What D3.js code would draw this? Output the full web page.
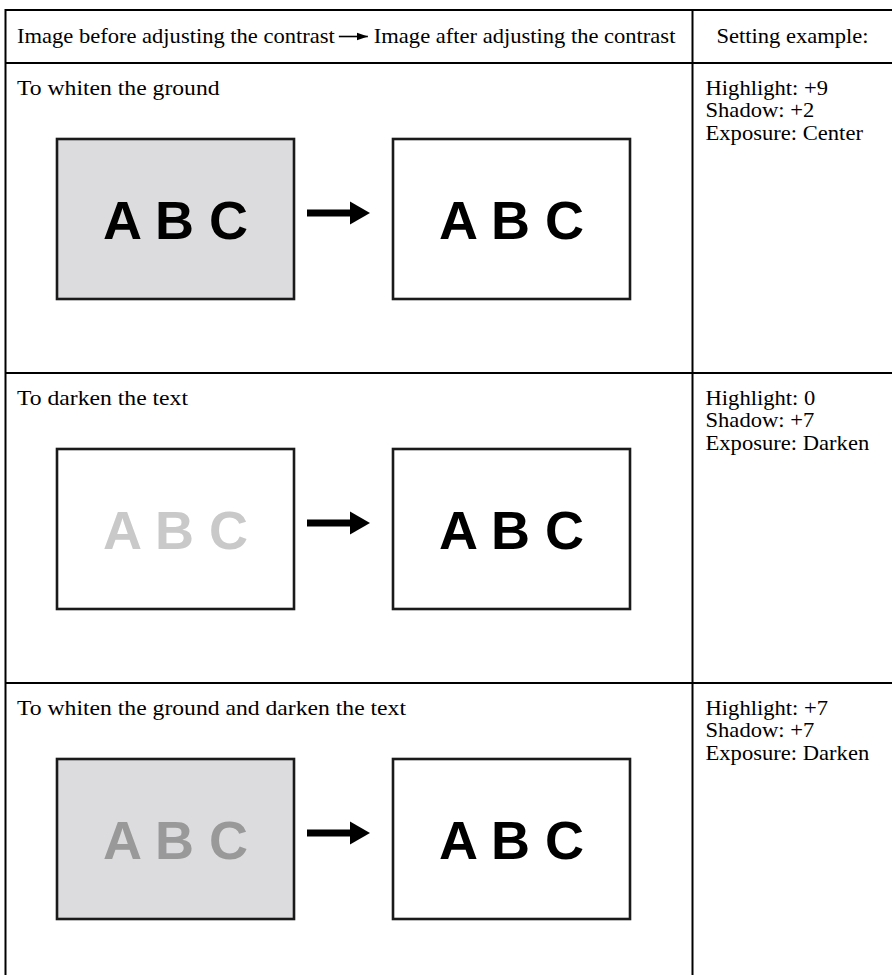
<!DOCTYPE html>
<html><head><meta charset="utf-8">
<script src="https://cdn.jsdelivr.net/npm/d3@7"></script>
<style>body{margin:0;background:#fff}svg{display:block}</style>
</head><body>
<svg id="c" width="892" height="975"></svg>
<script>
// ---- data ----
const headerLeft = ["Image before adjusting the contrast", "Image after adjusting the contrast"];
const headerRight = "Setting example:";
const rowTitles = ["To whiten the ground", "To darken the text", "To whiten the ground and darken the text"];
const sampleText = "A B C";
const beforeFill = ["#dcdcde", "#ffffff", "#dcdcde"];
const beforeInk = ["#000000", "#c9c9c9", "#999999"];
const afterFill = ["#ffffff", "#ffffff", "#ffffff"];
const afterInk = ["#000000", "#000000", "#000000"];
const highlight = ["+9", "0", "+7"];
const shadow = ["+2", "+7", "+7"];
const exposure = ["Center", "Darken", "Darken"];

const W = 892, H = 975;
const svg = d3.select("#c");
const serif = "'Liberation Serif','Times New Roman',serif";
const sans = "'Liberation Sans',Arial,sans-serif";

const tableLeft = 5.5, tableTop = 10, headerBottom = 63, divX = 692.5, rowH = 310;
const rowIdx = d3.range(rowTitles.length);
const y = d3.scaleBand().domain(rowIdx).range([headerBottom, headerBottom + rowH * rowIdx.length]).padding(0);
const col = d3.scalePoint().domain(["before", "after"]).range([175.5, 511.5]);
const boxW = 237, boxH = 160, boxOff = 76;

// helper: serif text, slightly widened like the reference typesetting
function stext(parent, x, yy, size, sx, str) {
  return parent.append("text")
    .attr("transform", `translate(${x},${yy}) scale(${sx},1)`)
    .attr("font-family", serif).attr("font-size", size).attr("fill", "#000").text(str);
}

// arrow marker defs
svg.append("defs").append("marker").attr("id", "hd").attr("viewBox", "0 0 10 10")
  .attr("refX", 10).attr("refY", 5).attr("markerWidth", 11).attr("markerHeight", 11)
  .attr("markerUnits", "userSpaceOnUse").attr("orient", "auto")
  .append("path").attr("d", "M0,1.5 L10,5 L0,8.5 Z").attr("fill", "#000");

// table lines
const g = svg.append("g").attr("stroke", "#000").attr("stroke-width", 2);
g.append("line").attr("x1", tableLeft).attr("x2", W + 5).attr("y1", tableTop).attr("y2", tableTop);
g.append("line").attr("x1", tableLeft).attr("x2", W + 5).attr("y1", headerBottom).attr("y2", headerBottom);
rowIdx.slice(1).forEach(i => g.append("line").attr("x1", tableLeft).attr("x2", W + 5).attr("y1", y(i)).attr("y2", y(i)));
g.append("line").attr("x1", tableLeft).attr("x2", tableLeft).attr("y1", tableTop - 1).attr("y2", H + 5);
g.append("line").attr("x1", divX).attr("x2", divX).attr("y1", tableTop - 1).attr("y2", H + 5);

// header
const hy = 43, hfs = 20.5, hsx = 1.1;
const t1 = stext(svg, 17, hy, hfs, hsx, headerLeft[0]);
const w1 = t1.node().getComputedTextLength() * hsx;
const ax0 = 17 + w1 + 4, ax1 = ax0 + 29;
svg.append("line").attr("x1", ax0).attr("x2", ax1).attr("y1", hy - 6.5).attr("y2", hy - 6.5)
  .attr("stroke", "#000").attr("stroke-width", 1.6).attr("marker-end", "url(#hd)");
stext(svg, ax1 + 6, hy, hfs, hsx, headerLeft[1]);
stext(svg, divX + 24, hy, hfs, hsx, headerRight);

// rows
const rows = svg.selectAll("g.row").data(rowIdx).join("g").attr("class", "row")
  .attr("transform", i => `translate(0,${y(i)})`);
rows.each(function (i) { stext(d3.select(this), 17, 32, 21.5, 1.1, rowTitles[i]); });

const panels = [["before", beforeFill, beforeInk], ["after", afterFill, afterInk]];
panels.forEach(([key, fills, inks]) => {
  rows.append("rect").attr("x", col(key) - boxW / 2).attr("y", boxOff)
    .attr("width", boxW).attr("height", boxH).attr("fill", i => fills[i])
    .attr("stroke", "#1a1a1a").attr("stroke-width", 2.6);
  rows.append("text").attr("x", col(key)).attr("y", boxOff + boxH / 2 + 19.5)
    .attr("text-anchor", "middle").attr("font-family", sans).attr("font-weight", "bold")
    .attr("font-size", 54).attr("fill", i => inks[i]).text(sampleText);
});

// big arrows between boxes
const bx0 = col("before") + boxW / 2 + 13, bx1 = col("after") - boxW / 2 - 23;
const acy = boxOff + boxH / 2 - 6;
rows.append("line").attr("x1", bx0).attr("x2", bx1 - 19).attr("y1", acy).attr("y2", acy)
  .attr("stroke", "#000").attr("stroke-width", 7);
rows.append("path").attr("d", `M${bx1 - 20},${acy - 11.5} L${bx1},${acy} L${bx1 - 20},${acy + 11.5} Z`)
  .attr("fill", "#000");

// settings column
rows.each(function (i) {
  const r = d3.select(this);
  stext(r, divX + 13, 32, 20, 1.13, "Highlight: " + highlight[i]);
  stext(r, divX + 13, 54.3, 20, 1.13, "Shadow: " + shadow[i]);
  stext(r, divX + 13, 76.6, 20, 1.13, "Exposure: " + exposure[i]);
});
</script>
</body></html>
